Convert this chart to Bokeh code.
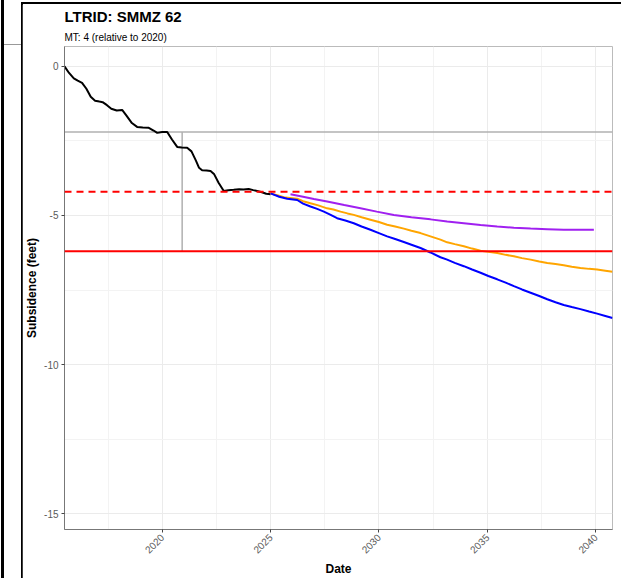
from bokeh.plotting import figure
from bokeh.models import Range1d, FixedTicker, Title, Div, Span, PrintfTickFormatter
from bokeh.layouts import row, column
from bokeh.embed import file_html
from bokeh.resources import INLINE

# ---------------- data ----------------
hist_year = [2015.49, 2015.70, 2015.92, 2016.10, 2016.30, 2016.50, 2016.70, 2016.90,
             2017.10, 2017.25, 2017.45, 2017.65, 2017.90, 2018.15, 2018.35, 2018.60,
             2018.84, 2019.10, 2019.38, 2019.60, 2019.77, 2020.00, 2020.23, 2020.45,
             2020.69, 2020.90, 2021.15, 2021.35, 2021.55, 2021.70, 2021.84, 2022.05,
             2022.23, 2022.40, 2022.60, 2022.84, 2023.05, 2023.30, 2023.55, 2023.75,
             2023.99, 2024.20, 2024.38, 2024.60, 2024.80, 2025.00]
hist_ft = [0.00, -0.22, -0.40, -0.48, -0.55, -0.75, -1.02, -1.15,
           -1.18, -1.20, -1.30, -1.42, -1.48, -1.46, -1.65, -1.90,
           -2.03, -2.05, -2.06, -2.15, -2.23, -2.20, -2.20, -2.45,
           -2.70, -2.72, -2.73, -2.85, -3.15, -3.40, -3.48, -3.49,
           -3.51, -3.62, -3.90, -4.18, -4.15, -4.14, -4.12, -4.13,
           -4.11, -4.15, -4.18, -4.22, -4.27, -4.29]

orange_year = [2025.00, 2025.35, 2025.69, 2026.23, 2026.50, 2026.84, 2027.20, 2027.61,
               2027.90, 2028.23, 2028.55, 2028.84, 2029.20, 2029.61, 2030.00, 2030.38,
               2030.75, 2031.15, 2031.50, 2031.92, 2032.38, 2032.84, 2033.15, 2033.50,
               2033.92, 2034.30, 2034.69, 2035.05, 2035.46, 2035.85, 2036.23, 2036.60,
               2037.00, 2037.40, 2037.77, 2038.15, 2038.53, 2038.90, 2039.30, 2039.70,
               2040.07, 2040.45, 2040.78]
orange_ft = [-4.26, -4.33, -4.40, -4.44, -4.52, -4.59, -4.66, -4.76,
             -4.80, -4.87, -4.93, -4.98, -5.06, -5.14, -5.22, -5.31,
             -5.37, -5.44, -5.51, -5.59, -5.70, -5.81, -5.90, -5.96,
             -6.03, -6.11, -6.18, -6.22, -6.26, -6.32, -6.37, -6.43,
             -6.48, -6.54, -6.59, -6.63, -6.67, -6.72, -6.76, -6.79,
             -6.81, -6.85, -6.89]

blue_year = [2025.00, 2025.40, 2025.77, 2026.23, 2026.50, 2026.84, 2027.15, 2027.46,
             2027.75, 2028.07, 2028.45, 2028.84, 2029.20, 2029.61, 2030.00, 2030.38,
             2030.75, 2031.15, 2031.50, 2031.92, 2032.38, 2032.84, 2033.15, 2033.50,
             2033.92, 2034.30, 2034.69, 2035.05, 2035.46, 2035.85, 2036.23, 2036.60,
             2037.00, 2037.40, 2037.77, 2038.15, 2038.53, 2038.90, 2039.30, 2039.70,
             2040.07, 2040.45, 2040.78]
blue_ft = [-4.26, -4.37, -4.44, -4.48, -4.60, -4.70, -4.78, -4.87,
           -4.97, -5.09, -5.17, -5.26, -5.37, -5.48, -5.59, -5.70,
           -5.79, -5.89, -5.98, -6.09, -6.24, -6.40, -6.48, -6.59,
           -6.70, -6.81, -6.92, -7.03, -7.14, -7.25, -7.37, -7.48,
           -7.59, -7.70, -7.81, -7.91, -8.00, -8.07, -8.14, -8.22,
           -8.29, -8.37, -8.44]

purple_year = [2025.92, 2026.50, 2027.00, 2027.61, 2028.40, 2029.15, 2029.90, 2030.69,
               2031.50, 2032.38, 2033.15, 2033.92, 2034.69, 2035.46, 2036.23, 2037.00,
               2037.77, 2038.53, 2039.20, 2039.92]
purple_ft = [-4.29, -4.37, -4.45, -4.53, -4.65, -4.76, -4.87, -4.98,
             -5.06, -5.13, -5.20, -5.26, -5.32, -5.37, -5.41, -5.44,
             -5.46, -5.48, -5.48, -5.48]

ref_level = -2.2        # level in 2020 (grey horizontal)
ref_date = 2020.92      # grey vertical marker
mo_level = -4.2         # dashed red
mt_level = -6.2         # solid red (MT: 4 relative to 2020)

x_ticks = [2020, 2025, 2030, 2035, 2040]
x_minor = [2017.5, 2022.5, 2027.5, 2032.5, 2037.5]
y_ticks = [-15, -10, -5, 0]
y_minor = [-12.5, -7.5, -2.5]

FONT = "Liberation Sans"

# ---------------- figure ----------------
p = figure(width=599, height=574, output_backend="svg", toolbar_location=None,
           title=None,
           x_range=Range1d(2015.49, 2040.78), y_range=Range1d(-15.53, 0.667),
           min_border_left=42, min_border_right=9, min_border_top=40,
           min_border_bottom=48)
p.background_fill_color = "white"
p.border_fill_color = "white"
p.outline_line_color = "#bbbbbb"
p.outline_line_width = 1

p.xaxis.ticker = FixedTicker(ticks=x_ticks, minor_ticks=x_minor)
p.yaxis.ticker = FixedTicker(ticks=y_ticks, minor_ticks=y_minor)
p.yaxis.formatter = PrintfTickFormatter(format="%d")
p.xaxis.formatter = PrintfTickFormatter(format="%d")

for ax in (p.xaxis[0], p.yaxis[0]):
    ax.axis_line_color = "#777777"
    ax.major_tick_line_color = "#444444"
    ax.major_tick_out = 3
    ax.major_tick_in = 0
    ax.minor_tick_line_color = None
    ax.major_label_text_font = FONT
    ax.major_label_text_font_size = "10px"
    ax.major_label_text_color = "#5a5a5a"
    ax.axis_label_text_font = FONT
    ax.axis_label_text_font_size = "12px"
    ax.axis_label_text_font_style = "bold"
    ax.axis_label_text_color = "black"
    ax.major_label_standoff = 2
    ax.axis_label_standoff = 2

p.xaxis.axis_label = "Date"
p.yaxis.axis_label = "Subsidence (feet)"
p.xaxis.major_label_orientation = 0.785398

for g in (p.xgrid[0], p.ygrid[0]):
    g.grid_line_color = "#ebebeb"
    g.grid_line_width = 1
    g.minor_grid_line_color = "#f3f3f3"
    g.minor_grid_line_width = 1

p.add_layout(Title(text="MT: 4 (relative to 2020)", text_font=FONT,
                   text_font_size="10px", text_font_style="normal",
                   text_color="black", align="left", standoff=8), "above")
p.add_layout(Title(text="LTRID: SMMZ 62", text_font=FONT,
                   text_font_size="15px", text_font_style="bold",
                   text_color="black", align="left", standoff=2), "above")

# reference lines
p.add_layout(Span(location=ref_level, dimension="width", line_color="#b0b0b0",
                  line_width=1.5, level="underlay"))
p.segment(x0=[ref_date], y0=[ref_level], x1=[ref_date], y1=[mt_level],
          line_color="#b0b0b0", line_width=1.5)

p.line(hist_year, hist_ft, line_color="black", line_width=2)
p.line(orange_year, orange_ft, line_color="#ffa500", line_width=2)
p.line(blue_year, blue_ft, line_color="#0000ff", line_width=2)
p.line(purple_year, purple_ft, line_color="#a020f0", line_width=2)

p.add_layout(Span(location=mo_level, dimension="width", line_color="#ff0000",
                  line_width=2, line_dash="7 5"))
p.add_layout(Span(location=mt_level, dimension="width", line_color="#ff0000",
                  line_width=2))

# ---------------- frame strips ----------------
left_html = ('<div style="position:relative;width:22px;height:578px;">'
             '<div style="position:absolute;left:1px;top:0;width:3px;height:578px;background:#000"></div>'
             '<div style="position:absolute;left:4px;top:44px;width:17px;height:1px;background:#999"></div>'
             '<div style="position:absolute;left:21px;top:2px;width:2px;height:576px;background:#000"></div>'
             '</div>')
left = Div(text=left_html, width=22, height=578, margin=0)
top = Div(text="", width=599, height=2, margin=(2, 0, 0, 0),
          styles={"background-color": "black"})

layout = row(left, column(top, p, spacing=0), spacing=0)

open("out.html", "w").write(file_html(layout, INLINE))
